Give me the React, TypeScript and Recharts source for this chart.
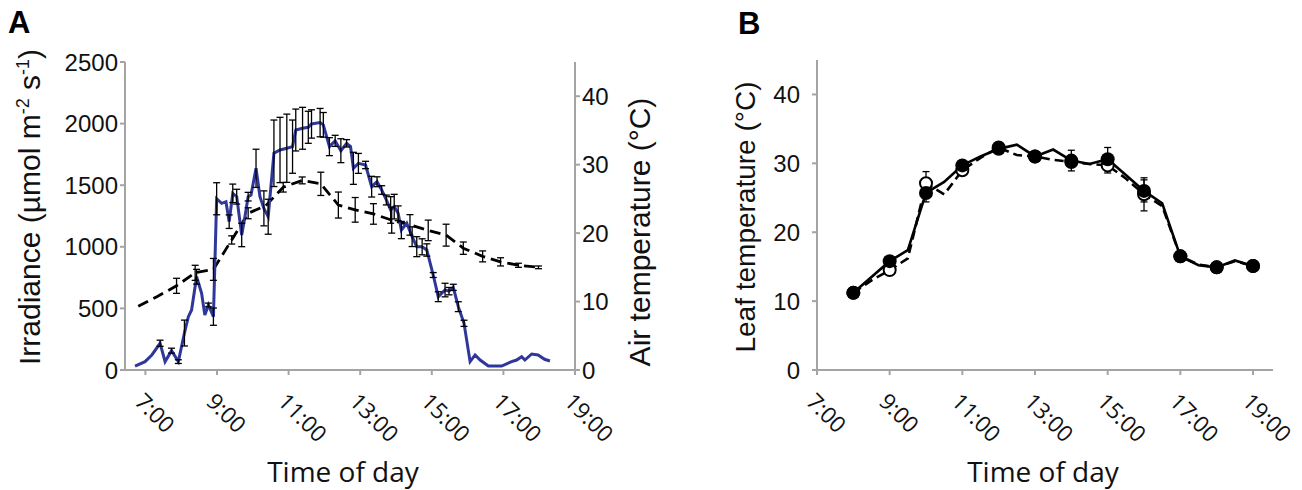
import React from 'react';
import { ComposedChart, Line, Scatter, XAxis, YAxis, ErrorBar, Label } from 'recharts';

// ---------- Panel A data ----------
const irradianceTimes = [6.71, 6.99, 7.18, 7.41, 7.55, 7.73, 7.92, 8.09, 8.2, 8.29, 8.43, 8.57, 8.66, 8.76, 8.9, 8.99, 9.13, 9.25, 9.34, 9.44, 9.55, 9.69, 9.78, 9.87, 9.95, 10.09, 10.2, 10.31, 10.43, 10.59, 10.76, 10.95, 11.11, 11.2, 11.39, 11.55, 11.64, 11.88, 11.97, 12.14, 12.3, 12.46, 12.62, 12.73, 12.81, 12.95, 13.15, 13.32, 13.47, 13.6, 13.73, 13.85, 13.95, 14.06, 14.15, 14.3, 14.45, 14.58, 14.73, 14.86, 15.04, 15.18, 15.37, 15.48, 15.6, 15.74, 15.9, 16.07, 16.21, 16.35, 16.58, 16.95, 17.23, 17.37, 17.51, 17.6, 17.79, 17.97, 18.15, 18.3];
const irradianceValues = [32, 68, 122, 217, 68, 157, 68, 300, 433, 487, 757, 622, 446, 528, 433, 1390, 1353, 1366, 1204, 1434, 1407, 1096, 1244, 1407, 1420, 1637, 1407, 1312, 1244, 1759, 1786, 1800, 1813, 1948, 1962, 1970, 1997, 2008, 1990, 1813, 1860, 1780, 1840, 1813, 1637, 1677, 1664, 1488, 1528, 1461, 1380, 1299, 1326, 1272, 1136, 1191, 1082, 1001, 1000, 974, 771, 595, 649, 640, 671, 514, 379, 68, 122, 81, 32, 32, 68, 81, 108, 81, 130, 122, 87, 73];
const irradianceErrors = [0, 0, 0, 25, 0, 20, 15, 105, 0, 0, 60, 0, 0, 15, 70, 130, 0, 0, 55, 75, 60, 95, 0, 35, 0, 155, 0, 142, 142, 270, 265, 277, 216, 170, 170, 130, 115, 115, 100, 73, 45, 97, 30, 0, 130, 81, 30, 84, 40, 35, 40, 108, 100, 60, 70, 0, 80, 81, 65, 50, 20, 40, 55, 30, 25, 40, 25, 0, 0, 0, 0, 0, 0, 0, 0, 0, 0, 0, 0, 0];

const airTimes = [6.8, 7.32, 7.87, 8.39, 8.9, 9.41, 9.87, 10.36, 10.85, 11.38, 11.9, 12.39, 12.86, 13.37, 13.88, 14.39, 14.9, 15.4, 15.88, 16.42, 16.92, 17.42, 17.98];
const airValues = [9.3, 10.7, 12.3, 14.2, 14.7, 19.0, 22.9, 24.0, 26.7, 27.7, 27.2, 24.1, 23.4, 22.8, 21.9, 21.2, 20.4, 19.7, 17.8, 16.6, 15.8, 15.3, 15.0];
const airErrors = [0, 0, 1.1, 1.1, 1.6, 0.6, 0.8, 0, 0.7, 0.5, 1.7, 1.9, 1.8, 1.5, 1.9, 1.5, 1.5, 1.6, 0.9, 0.8, 0.6, 0.3, 0.2];

const irradianceTicks = [0, 500, 1000, 1500, 2000, 2500];
const tempTicks = [0, 10, 20, 30, 40];
const hourTicks = [7, 9, 11, 13, 15, 17, 19];

// ---------- Panel B data ----------
const leafTimes = [8, 8.5, 9, 9.5, 10, 10.5, 11, 11.5, 12, 12.5, 13, 13.5, 14, 14.5, 15, 15.5, 16, 16.5, 17, 17.5, 18, 18.5, 19];
const leafFilled = [11.2, 13.5, 15.8, 17.4, 25.7, 27.3, 29.7, 31.0, 32.1, 32.7, 31.0, 32.0, 30.4, 29.9, 30.6, 28.3, 26.0, 24.2, 16.5, 15.2, 14.9, 15.9, 15.1];
const leafOpen = [11.2, 13.0, 14.5, 16.2, 27.1, 25.5, 29.0, 30.8, 32.3, 31.2, 31.0, 30.5, 30.2, 29.9, 29.7, 27.8, 25.5, 23.8, 16.5, 15.3, 14.9, 15.8, 15.1];
const filledErrHours = [10, 11, 14, 15, 16];
const filledErrValues = [1.3, 0.6, 1.5, 1.7, 1.6];
const openErrHours = [9, 10, 12, 15, 16];
const openErrValues = [0.6, 1.7, 0.5, 1.1, 2.4];

// ---------- derived tables ----------
const irradiance = irradianceTimes.map((t, i) => ({ t, v: irradianceValues[i], e: irradianceErrors[i] }));
const irradianceWithErr = irradiance.filter((d) => d.e > 0);
const air = airTimes.map((t, i) => ({ t, v: airValues[i], e: airErrors[i] }));
const airWithErr = air.filter((d) => d.e > 0);

const filledLine = leafTimes.map((t, i) => ({ t, v: leafFilled[i] }));
const openLine = leafTimes.map((t, i) => ({ t, v: leafOpen[i] }));
const filledMarks = filledLine.filter((d) => Number.isInteger(d.t));
const openMarks = openLine.filter((d) => Number.isInteger(d.t));
const filledErr = filledErrHours.map((h, i) => ({ t: h, v: leafFilled[leafTimes.indexOf(h)], e: filledErrValues[i] }));
const openErr = openErrHours.map((h, i) => ({ t: h, v: leafOpen[leafTimes.indexOf(h)], e: openErrValues[i] }));

const AXIS = '#a4a4a4';
const SANS = '"Liberation Sans", Arial, sans-serif';
const HUMAN = '"Open Sans", "Noto Sans", sans-serif';

const fmtHour = (v: number) => `${v}:00`;

const XTick = (props: any) => {
  const { x, payload } = props;
  const ax = x - 12;
  const ay = 403;
  return (
    <text x={ax} y={ay} transform={`rotate(45 ${ax} ${ay})`} fontFamily={HUMAN} fontSize={22.5} fill="#111" textAnchor="start">
      {fmtHour(payload.value)}
    </text>
  );
};

const tickStyle = { fontSize: 24, fill: '#111', fontFamily: SANS };
const noShape = () => <g />;

const PanelALabels = () => (
  <g>
    <text x={8} y={33} fontFamily={SANS} fontWeight="bold" fontSize={31} fill="#000">A</text>
    <text transform="rotate(-90 40 207)" x={40} y={207} textAnchor="middle" fontFamily={SANS} fontSize={30} fill="#111">
      Irradiance (µmol m<tspan dy={-11} fontSize={18}>-2</tspan><tspan dy={11}> s</tspan><tspan dy={-11} fontSize={18}>-1</tspan><tspan dy={11}>)</tspan>
    </text>
    <text transform="rotate(-90 650 232)" x={650} y={232} textAnchor="middle" fontFamily={SANS} fontSize={30} fill="#111">
      Air temperature (°C)
    </text>
    <text x={343} y={482} textAnchor="middle" fontFamily={HUMAN} fontSize={28} fill="#111">Time of day</text>
  </g>
);

const PanelBLabels = () => (
  <g>
    <text x={88} y={34} fontFamily={SANS} fontWeight="bold" fontSize={31} fill="#000">B</text>
    <text transform="rotate(-90 105 217)" x={105} y={217} textAnchor="middle" fontFamily={SANS} fontSize={28} fill="#111">
      Leaf temperature (°C)
    </text>
    <text x={393} y={482} textAnchor="middle" fontFamily={HUMAN} fontSize={28} fill="#111">Time of day</text>
  </g>
);

export default function App() {
  return (
    <div style={{ position: 'absolute', left: 0, top: 0, width: 1302, height: 490, background: '#fff' }}>
      <div style={{ position: 'absolute', left: 0, top: 0 }}>
        <ComposedChart width={670} height={490} margin={{ top: 62, right: 35, bottom: 60, left: 65 }}>
          <XAxis
            dataKey="t"
            type="number"
            domain={[6.43, 19]}
            allowDataOverflow
            ticks={hourTicks}
            tick={<XTick />}
            height={60}
            tickSize={5}
            axisLine={{ stroke: AXIS, strokeWidth: 2 }}
            tickLine={{ stroke: AXIS, strokeWidth: 2 }}
            interval={0}
          >
            <Label content={() => <PanelALabels />} />
          </XAxis>
          <YAxis
            yAxisId="left"
            type="number"
            domain={[0, 2500]}
            ticks={irradianceTicks}
            width={60}
            tickSize={5}
            tickMargin={2}
            tick={tickStyle}
            axisLine={{ stroke: AXIS, strokeWidth: 2 }}
            tickLine={{ stroke: AXIS, strokeWidth: 2 }}
            interval={0}
          />
          <YAxis
            yAxisId="right"
            orientation="right"
            type="number"
            domain={[0, 45]}
            ticks={tempTicks}
            width={60}
            tickSize={5}
            tickMargin={2}
            tick={tickStyle}
            axisLine={{ stroke: AXIS, strokeWidth: 2 }}
            tickLine={{ stroke: AXIS, strokeWidth: 2 }}
            interval={0}
          />
          <Line
            yAxisId="right"
            data={air}
            dataKey="v"
            type="linear"
            stroke="#000"
            strokeWidth={2.8}
            strokeDasharray="11 6"
            dot={false}
            isAnimationActive={false}
          />
          <Line
            yAxisId="left"
            data={irradiance}
            dataKey="v"
            type="linear"
            stroke="#30379a"
            strokeWidth={3}
            dot={false}
            isAnimationActive={false}
          />
          <Scatter yAxisId="left" data={irradianceWithErr} dataKey="v" shape={noShape} isAnimationActive={false}>
            <ErrorBar dataKey="e" direction="y" width={3.5} stroke="#000" strokeWidth={1.3} isAnimationActive={false} />
          </Scatter>
          <Scatter yAxisId="right" data={airWithErr} dataKey="v" shape={noShape} isAnimationActive={false}>
            <ErrorBar dataKey="e" direction="y" width={3.5} stroke="#000" strokeWidth={1.3} isAnimationActive={false} />
          </Scatter>
        </ComposedChart>
      </div>
      <div style={{ position: 'absolute', left: 650, top: 0 }}>
        <ComposedChart width={652} height={490} margin={{ top: 60, right: 29, bottom: 60, left: 107 }}>
          <XAxis
            dataKey="t"
            type="number"
            domain={[7, 19.55]}
            allowDataOverflow
            ticks={hourTicks}
            tick={<XTick />}
            height={60}
            tickSize={5}
            axisLine={{ stroke: AXIS, strokeWidth: 2 }}
            tickLine={{ stroke: AXIS, strokeWidth: 2 }}
            interval={0}
          >
            <Label content={() => <PanelBLabels />} />
          </XAxis>
          <YAxis
            type="number"
            domain={[0, 45]}
            ticks={tempTicks}
            width={60}
            tickSize={5}
            tickMargin={12}
            tick={tickStyle}
            axisLine={{ stroke: AXIS, strokeWidth: 2 }}
            tickLine={{ stroke: AXIS, strokeWidth: 2 }}
            interval={0}
          />
          <Line data={openLine} dataKey="v" type="linear" stroke="#000" strokeWidth={2.6} strokeDasharray="9 5" dot={false} isAnimationActive={false} />
          <Line data={filledLine} dataKey="v" type="linear" stroke="#000" strokeWidth={2.6} dot={false} isAnimationActive={false} />
          <Scatter
            data={openMarks}
            dataKey="v"
            shape={(p: any) => <circle cx={p.cx} cy={p.cy} r={6} fill="#fff" stroke="#000" strokeWidth={2} />}
            isAnimationActive={false}
          />
          <Scatter
            data={filledMarks}
            dataKey="v"
            shape={(p: any) => <circle cx={p.cx} cy={p.cy} r={7} fill="#000" />}
            isAnimationActive={false}
          />
          <Scatter data={openErr} dataKey="v" shape={noShape} isAnimationActive={false}>
            <ErrorBar dataKey="e" direction="y" width={3.5} stroke="#000" strokeWidth={1.3} isAnimationActive={false} />
          </Scatter>
          <Scatter data={filledErr} dataKey="v" shape={noShape} isAnimationActive={false}>
            <ErrorBar dataKey="e" direction="y" width={3.5} stroke="#000" strokeWidth={1.3} isAnimationActive={false} />
          </Scatter>
        </ComposedChart>
      </div>
    </div>
  );
}
